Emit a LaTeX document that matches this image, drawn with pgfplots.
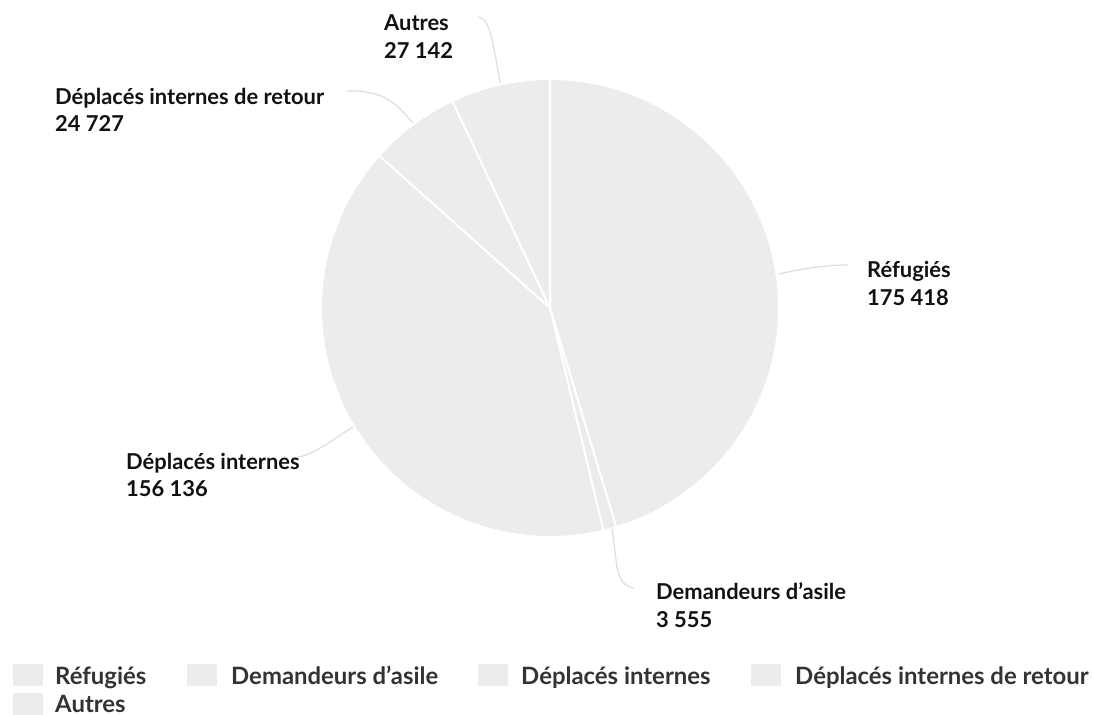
\documentclass[border=0pt]{standalone}
\usepackage{pgfplots}
\pgfplotsset{compat=1.18}
\usepackage{fontspec}
\setmainfont{Lato}
\definecolor{slice}{HTML}{ECECEC}
\definecolor{lead}{HTML}{DDDDDD}
\definecolor{labtext}{HTML}{111111}
\definecolor{legtext}{HTML}{333333}
% data
\def\vA{175418}% Réfugiés
\def\vB{3555}% Demandeurs d'asile
\def\vC{156136}% Déplacés internes
\def\vD{24727}% Déplacés internes de retour
\def\vE{27142}% Autres
\edef\tot{\fpeval{\vA+\vB+\vC+\vD+\vE}}
\edef\aO{90}
\edef\aA{\fpeval{90-360*\vA/\tot}}
\edef\aB{\fpeval{\aA-360*\vB/\tot}}
\edef\aC{\fpeval{\aB-360*\vC/\tot}}
\edef\aD{\fpeval{\aC-360*\vD/\tot}}
\edef\aE{\fpeval{\aD-360*\vE/\tot}}
\newcommand\lab[1]{\fontsize{21.9}{24}\selectfont\bfseries\color{labtext}#1}
\newcommand\leg[1]{\fontsize{23.9}{26}\selectfont\bfseries\color{legtext}#1}
\begin{document}
\begin{tikzpicture}
\begin{axis}[
  width=1093pt, height=715pt, scale only axis,
  xmin=0, xmax=1093, ymin=0, ymax=715, y dir=reverse,
  hide axis, clip=false,
]
\def\slice#1#2{%
  \addplot[fill=slice, draw=white, line width=2pt, line join=round, domain=#2:#1, samples=90, variable=\t]
    ({550+229*cos(\t)},{308-229*sin(\t)}) -- (axis cs:550,308) -- cycle;}
\slice{\aO}{\aA}
\slice{\aA}{\aB}
\slice{\aB}{\aC}
\slice{\aC}{\aD}
\slice{\aD}{\aE}
% leader lines
\draw[lead, line width=1.2pt] (axis cs:779,274) .. controls (axis cs:805,268) and (axis cs:828,265) .. (axis cs:848,265);
\draw[lead, line width=1.2pt] (axis cs:612,529) .. controls (axis cs:618,565) and (axis cs:614,584) .. (axis cs:634,588);
\draw[lead, line width=1.2pt] (axis cs:353,427) .. controls (axis cs:330,441) and (axis cs:312,457) .. (axis cs:292,458);
\draw[lead, line width=1.2pt] (axis cs:347,91) .. controls (axis cs:385,90) and (axis cs:396,104) .. (axis cs:413,123);
\draw[lead, line width=1.2pt] (axis cs:478,17) .. controls (axis cs:490,18) and (axis cs:493,42) .. (axis cs:500,83);
% labels
\node[anchor=base west, inner sep=0] at (axis cs:867,277) {\lab{Réfugiés}};
\node[anchor=base west, inner sep=0] at (axis cs:867,305) {\lab{175 418}};
\node[anchor=base west, inner sep=0] at (axis cs:656,599) {\lab{Demandeurs d’asile}};
\node[anchor=base west, inner sep=0] at (axis cs:656,627) {\lab{3 555}};
\node[anchor=base west, inner sep=0] at (axis cs:126,469) {\lab{Déplacés internes}};
\node[anchor=base west, inner sep=0] at (axis cs:126,496) {\lab{156 136}};
\node[anchor=base west, inner sep=0] at (axis cs:55,104) {\lab{Déplacés internes de retour}};
\node[anchor=base west, inner sep=0] at (axis cs:55,131) {\lab{24 727}};
\node[anchor=base west, inner sep=0] at (axis cs:384,30) {\lab{Autres}};
\node[anchor=base west, inner sep=0] at (axis cs:384,58) {\lab{27 142}};
% legend
\fill[slice] (axis cs:13,664) rectangle (axis cs:43,686);
\fill[slice] (axis cs:187,664) rectangle (axis cs:217,686);
\fill[slice] (axis cs:478,664) rectangle (axis cs:508,686);
\fill[slice] (axis cs:751,664) rectangle (axis cs:781,686);
\fill[slice] (axis cs:13,693) rectangle (axis cs:43,715);
\node[anchor=base west, inner sep=0] at (axis cs:55,684) {\leg{Réfugiés}};
\node[anchor=base west, inner sep=0] at (axis cs:231,684) {\leg{Demandeurs d’asile}};
\node[anchor=base west, inner sep=0] at (axis cs:521,684) {\leg{Déplacés internes}};
\node[anchor=base west, inner sep=0] at (axis cs:795,684) {\leg{Déplacés internes de retour}};
\node[anchor=base west, inner sep=0] at (axis cs:55,712) {\leg{Autres}};
\end{axis}
\pgfresetboundingbox
\path (current axis.south west) rectangle (current axis.north east);
\end{tikzpicture}
\end{document}
